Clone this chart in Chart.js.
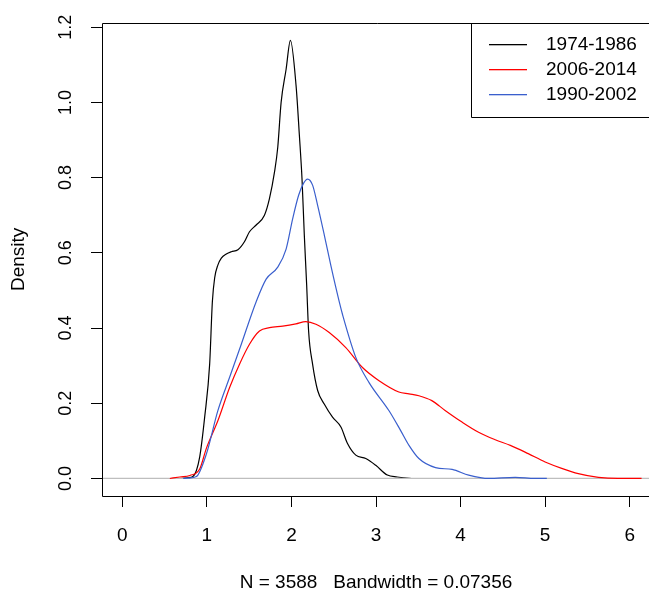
<!DOCTYPE html>
<html>
<head>
<meta charset="utf-8">
<script src="https://cdn.jsdelivr.net/npm/chart.js@4"></script>
<style>
  html, body { margin: 0; padding: 0; background: #fff; overflow: hidden; }
  #wrap { width: 652px; height: 594px; position: relative; }
</style>
</head>
<body>
<div id="wrap"><canvas id="myChart"></canvas></div>
<script>
// density curves
const blackX = [0.70, 0.78, 0.835, 0.915, 0.974, 1.033, 1.065, 1.092, 1.131, 1.171, 1.23, 1.289, 1.367, 1.446, 1.504, 1.583, 1.681, 1.74, 1.80, 1.838, 1.878, 1.937, 1.988, 2.055, 2.094, 2.125, 2.152, 2.18, 2.203, 2.25, 2.31, 2.388, 2.486, 2.585, 2.663, 2.761, 2.879, 2.997, 3.134, 3.25, 3.42];
const blackY = [0, 0.002, 0.005, 0.057, 0.163, 0.304, 0.47, 0.533, 0.568, 0.586, 0.597, 0.603, 0.608, 0.630, 0.656, 0.674, 0.70, 0.744, 0.815, 0.88, 1.0, 1.088, 1.165, 1.044, 0.912, 0.797, 0.648, 0.515, 0.392, 0.304, 0.234, 0.198, 0.163, 0.137, 0.093, 0.062, 0.053, 0.035, 0.009, 0.004, 0];

const redX = [0.562, 0.68, 0.80, 0.915, 0.994, 1.131, 1.269, 1.386, 1.504, 1.622, 1.74, 1.897, 2.053, 2.17, 2.29, 2.447, 2.643, 2.84, 3.036, 3.27, 3.39, 3.507, 3.66, 3.817, 4.017, 4.213, 4.41, 4.588, 4.8, 5.0, 5.196, 5.392, 5.63, 5.86, 6.14];
const redY = [0, 0.004, 0.008, 0.025, 0.08, 0.154, 0.242, 0.304, 0.357, 0.392, 0.401, 0.405, 0.411, 0.417, 0.41, 0.388, 0.348, 0.295, 0.26, 0.23, 0.225, 0.22, 0.207, 0.181, 0.15, 0.123, 0.103, 0.088, 0.066, 0.044, 0.027, 0.013, 0.003, 0, 0];

const blueX = [0.72, 0.778, 0.876, 0.994, 1.131, 1.269, 1.407, 1.583, 1.701, 1.838, 1.937, 2.015, 2.085, 2.141, 2.191, 2.25, 2.309, 2.388, 2.467, 2.565, 2.604, 2.761, 2.918, 3.154, 3.29, 3.39, 3.507, 3.704, 3.9, 4.096, 4.332, 4.646, 4.88, 5.02];
const blueY = [0, 0.001, 0.005, 0.065, 0.181, 0.269, 0.357, 0.47, 0.53, 0.562, 0.61, 0.691, 0.753, 0.784, 0.796, 0.78, 0.727, 0.648, 0.565, 0.47, 0.436, 0.322, 0.255, 0.18, 0.128, 0.088, 0.053, 0.029, 0.024, 0.009, 0, 0.003, 0, 0];

const seriesLabels = ["1974-1986", "2006-2014", "1990-2002"];
const seriesColors = ["#000000", "#ff0000", "#3a5fcd"];

const xTicks = [0, 1, 2, 3, 4, 5, 6];
const yTicks = [0, 0.2, 0.4, 0.6, 0.8, 1.0, 1.2];
const xRange = [-0.24, 6.24];
const yRange = [-0.0466, 1.2116];

const xTitle = "N = 3588   Bandwidth = 0.07356";
const yTitle = "Density";

const FONT = "'Liberation Sans', Arial, sans-serif";

function pts(xs, ys) {
  return xs.map((x, i) => ({ x: x, y: ys[i] }));
}

function curve(label, color, xs, ys, order) {
  return {
    label: label,
    data: pts(xs, ys),
    borderColor: color,
    borderWidth: 1.2,
    pointRadius: 0,
    fill: false,
    cubicInterpolationMode: "monotone",
    order: order,
  };
}

// box around plot (R style) and legend
const framePlugin = {
  id: "frame",
  afterDatasetsDraw(chart) {
    const { ctx, chartArea } = chart;
    const l = Math.round(chartArea.left) + 0.5;
    const t = Math.round(chartArea.top) + 0.5;
    const b = Math.round(chartArea.bottom) + 0.5;
    const r = chartArea.right + 5;
    ctx.save();
    ctx.strokeStyle = "#000";
    ctx.lineWidth = 1;
    ctx.beginPath();
    ctx.moveTo(r, t);
    ctx.lineTo(l, t);
    ctx.lineTo(l, b);
    ctx.lineTo(r, b);
    ctx.stroke();

    // legend
    const lx = 471.5, lb = 117.5;
    ctx.beginPath();
    ctx.moveTo(r, lb);
    ctx.lineTo(lx, lb);
    ctx.lineTo(lx, t);
    ctx.stroke();
    ctx.font = "19px " + FONT;
    ctx.textBaseline = "middle";
    ctx.textAlign = "left";
    chart.data.datasets
      .filter((ds) => seriesLabels.includes(ds.label))
      .sort((a, b2) => seriesLabels.indexOf(a.label) - seriesLabels.indexOf(b2.label))
      .forEach((ds, i) => {
        const y = 44 + i * 25;
        ctx.fillStyle = ds.borderColor;
        ctx.fillRect(489, y, 38, 1.3);
        ctx.fillStyle = "#000";
        ctx.fillText(ds.label, 546, y + 1);
      });
    ctx.restore();
  },
};

const ctx = document.getElementById("myChart").getContext("2d");

new Chart(ctx, {
  type: "line",
  data: {
    datasets: [
      curve(seriesLabels[0], seriesColors[0], blackX, blackY, 4),
      {
        label: "zero",
        data: pts(xRange, [0, 0]),
        borderColor: "#bebebe",
        borderWidth: 1.2,
        pointRadius: 0,
        order: 3,
      },
      curve(seriesLabels[1], seriesColors[1], redX, redY, 2),
      curve(seriesLabels[2], seriesColors[2], blueX, blueY, 1),
    ],
  },
  options: {
    responsive: true,
    maintainAspectRatio: false,
    animation: false,
    layout: { padding: { top: 20, left: 0, right: 0, bottom: 0 } },
    plugins: {
      legend: { display: false },
      tooltip: { enabled: false },
    },
    scales: {
      x: {
        type: "linear",
        min: xRange[0],
        max: xRange[1],
        afterBuildTicks: (s) => { s.ticks = xTicks.map((v) => ({ value: v })); },
        afterFit: (s) => { s.height = 98; },
        border: { display: false },
        grid: { drawOnChartArea: false, drawTicks: true, tickLength: 11, color: "#000", lineWidth: 1 },
        ticks: {
          color: "#000",
          font: { family: FONT, size: 19 },
          padding: 17,
          maxRotation: 0,
          callback: (v) => String(v),
        },
        title: {
          display: true,
          text: xTitle,
          color: "#000",
          font: { family: FONT, size: 19 },
          padding: { top: 0, bottom: 0 },
        },
      },
      y: {
        type: "linear",
        min: yRange[0],
        max: yRange[1],
        afterBuildTicks: (s) => { s.ticks = yTicks.map((v) => ({ value: v })); },
        afterFit: (s) => { s.width = 102; },
        border: { display: false },
        grid: { drawOnChartArea: false, drawTicks: true, tickLength: 11, color: "#000", lineWidth: 1 },
        ticks: {
          color: "#000",
          font: { family: FONT, size: 18 },
          padding: 12,
          minRotation: 90,
          maxRotation: 90,
          crossAlign: "center",
          callback: (v) => Number(v).toFixed(1),
        },
        title: {
          display: true,
          text: yTitle,
          color: "#000",
          font: { family: FONT, size: 19 },
          padding: { top: 7, bottom: 7 },
        },
      },
    },
  },
  plugins: [framePlugin],
});
</script>
</body>
</html>
